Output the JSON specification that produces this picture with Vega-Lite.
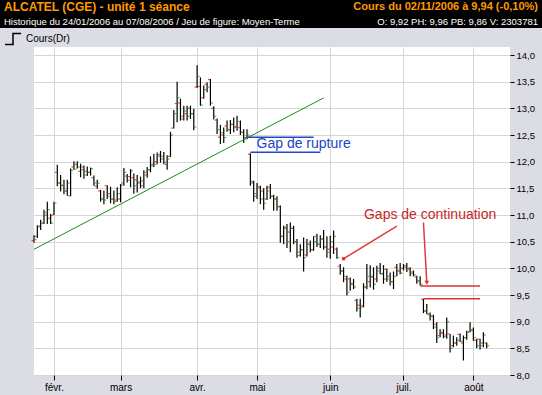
{
  "$schema": "https://vega.github.io/schema/vega-lite/v6.json",
  "background": "#dcdce4",
  "padding": {"left": 0, "top": 0, "right": 0, "bottom": 4},
  "config": {"view": {"stroke": null}, "font": "Liberation Sans", "scale": {"pointPadding": 0}},
  "spacing": 2,
  "resolve": {"scale": {"x": "independent", "y": "independent", "color": "independent"}},
  "vconcat": [
    {
      "width": 542,
      "height": 28,
      "view": {"fill": "#000000", "stroke": null},
      "data": {"values": [
        {"line": 1, "side": "gauche", "text": "ALCATEL (CGE) - unité 1 séance"},
        {"line": 1, "side": "droite", "text": "Cours du 02/11/2006 à 9,94 (-0,10%)"},
        {"line": 2, "side": "gauche", "text": "Historique du 24/01/2006 au 07/08/2006 / Jeu de figure: Moyen-Terme"},
        {"line": 2, "side": "droite", "text": "O: 9,92  PH: 9,96  PB: 9,86  V: 2303781"}
      ]},
      "encoding": {
        "x": {"field": "side", "type": "nominal", "scale": {"type": "point", "domain": ["gauche", "droite"], "padding": 0}, "axis": null},
        "y": {"field": "line", "type": "ordinal", "scale": {"type": "point", "domain": [1, 2], "padding": 0.5}, "axis": null},
        "text": {"field": "text"}
      },
      "layer": [
        {"transform": [{"filter": "datum.line == 1 && datum.side == 'gauche'"}],
         "mark": {"type": "text", "align": "left", "baseline": "middle", "dx": 4, "fontSize": 12, "fontWeight": "bold", "color": "#ff9900"}},
        {"transform": [{"filter": "datum.line == 1 && datum.side == 'droite'"}],
         "mark": {"type": "text", "align": "right", "baseline": "middle", "dx": -4, "fontSize": 11, "fontWeight": "bold", "color": "#ff9900"}},
        {"transform": [{"filter": "datum.line == 2 && datum.side == 'gauche'"}],
         "mark": {"type": "text", "align": "left", "baseline": "middle", "dx": 4, "dy": 1, "fontSize": 9.5, "color": "#ffffff"}},
        {"transform": [{"filter": "datum.line == 2 && datum.side == 'droite'"}],
         "mark": {"type": "text", "align": "right", "baseline": "middle", "dx": -4, "dy": 1, "fontSize": 9.5, "color": "#ffffff"}}
      ]
    },
    {
      "spacing": 3,
      "resolve": {"scale": {"x": "independent", "y": "independent", "color": "independent"}},
      "hconcat": [
        {"width": 1, "height": 1, "data": {"values": []}, "mark": "point"},
        {
          "width": 476,
          "height": 328,
          "view": {"fill": "#ffffff", "stroke": null},
          "resolve": {"axis": {"y": "independent"}},
          "data": {"values": [
            {"d":"2006-01-24","o":10.52,"h":10.62,"l":10.48,"c":10.54},
            {"d":"2006-01-25","o":10.6,"h":10.81,"l":10.57,"c":10.78},
            {"d":"2006-01-26","o":10.79,"h":10.91,"l":10.72,"c":10.85},
            {"d":"2006-01-27","o":10.85,"h":11.1,"l":10.83,"c":11.05},
            {"d":"2006-01-30","o":11.0,"h":11.25,"l":10.83,"c":11.1},
            {"d":"2006-01-31","o":10.94,"h":11.02,"l":10.83,"c":10.85},
            {"d":"2006-02-01","o":11.0,"h":11.25,"l":11.0,"c":11.22},
            {"d":"2006-02-02","o":11.8,"h":11.94,"l":11.54,"c":11.6},
            {"d":"2006-02-03","o":11.6,"h":11.75,"l":11.44,"c":11.56},
            {"d":"2006-02-06","o":11.55,"h":11.66,"l":11.39,"c":11.45},
            {"d":"2006-02-07","o":11.45,"h":11.66,"l":11.36,"c":11.6},
            {"d":"2006-02-08","o":11.36,"h":11.87,"l":11.35,"c":11.84},
            {"d":"2006-02-09","o":11.9,"h":12.01,"l":11.85,"c":11.86},
            {"d":"2006-02-10","o":11.95,"h":12.01,"l":11.87,"c":11.9},
            {"d":"2006-02-13","o":11.82,"h":11.96,"l":11.71,"c":11.9},
            {"d":"2006-02-14","o":11.85,"h":11.93,"l":11.68,"c":11.75},
            {"d":"2006-02-15","o":11.82,"h":11.91,"l":11.73,"c":11.8},
            {"d":"2006-02-16","o":11.8,"h":11.89,"l":11.74,"c":11.87},
            {"d":"2006-02-17","o":11.7,"h":11.74,"l":11.55,"c":11.6},
            {"d":"2006-02-20","o":11.54,"h":11.66,"l":11.49,"c":11.6},
            {"d":"2006-02-21","o":11.45,"h":11.47,"l":11.25,"c":11.3},
            {"d":"2006-02-22","o":11.3,"h":11.46,"l":11.2,"c":11.28},
            {"d":"2006-02-23","o":11.55,"h":11.56,"l":11.3,"c":11.35},
            {"d":"2006-02-24","o":11.4,"h":11.53,"l":11.22,"c":11.3},
            {"d":"2006-02-27","o":11.3,"h":11.46,"l":11.2,"c":11.25},
            {"d":"2006-02-28","o":11.28,"h":11.52,"l":11.25,"c":11.4},
            {"d":"2006-03-01","o":11.3,"h":11.58,"l":11.24,"c":11.56},
            {"d":"2006-03-02","o":11.6,"h":11.88,"l":11.55,"c":11.8},
            {"d":"2006-03-03","o":11.73,"h":11.77,"l":11.61,"c":11.65},
            {"d":"2006-03-06","o":11.72,"h":11.86,"l":11.52,"c":11.83},
            {"d":"2006-03-07","o":11.7,"h":11.78,"l":11.4,"c":11.55},
            {"d":"2006-03-08","o":11.66,"h":11.75,"l":11.42,"c":11.62},
            {"d":"2006-03-09","o":11.6,"h":11.72,"l":11.5,"c":11.64},
            {"d":"2006-03-10","o":11.55,"h":11.84,"l":11.5,"c":11.8},
            {"d":"2006-03-13","o":11.75,"h":11.9,"l":11.7,"c":11.85},
            {"d":"2006-03-14","o":11.85,"h":12.1,"l":11.8,"c":11.92},
            {"d":"2006-03-15","o":11.95,"h":12.15,"l":11.9,"c":11.95},
            {"d":"2006-03-16","o":12.0,"h":12.17,"l":11.95,"c":12.1},
            {"d":"2006-03-17","o":12.13,"h":12.2,"l":11.98,"c":12.05},
            {"d":"2006-03-20","o":12.1,"h":12.18,"l":11.95,"c":11.99},
            {"d":"2006-03-21","o":11.95,"h":12.12,"l":11.85,"c":12.05},
            {"d":"2006-03-22","o":12.1,"h":12.56,"l":12.09,"c":12.5},
            {"d":"2006-03-23","o":12.63,"h":12.97,"l":12.62,"c":12.9},
            {"d":"2006-03-24","o":13.09,"h":13.5,"l":12.74,"c":13.2},
            {"d":"2006-03-27","o":13.1,"h":13.18,"l":12.77,"c":12.8},
            {"d":"2006-03-28","o":12.85,"h":13.05,"l":12.77,"c":12.95},
            {"d":"2006-03-29","o":12.9,"h":13.05,"l":12.77,"c":12.85},
            {"d":"2006-03-30","o":13.0,"h":13.05,"l":12.8,"c":12.9},
            {"d":"2006-03-31","o":12.9,"h":12.99,"l":12.59,"c":12.65},
            {"d":"2006-04-03","o":13.4,"h":13.81,"l":13.38,"c":13.6},
            {"d":"2006-04-04","o":13.41,"h":13.58,"l":13.05,"c":13.06},
            {"d":"2006-04-05","o":13.2,"h":13.43,"l":13.18,"c":13.35},
            {"d":"2006-04-06","o":13.45,"h":13.49,"l":13.3,"c":13.4},
            {"d":"2006-04-07","o":13.54,"h":13.55,"l":13.05,"c":13.1},
            {"d":"2006-04-10","o":13.0,"h":13.04,"l":12.79,"c":12.85},
            {"d":"2006-04-11","o":12.78,"h":12.81,"l":12.52,"c":12.6},
            {"d":"2006-04-12","o":12.46,"h":12.69,"l":12.33,"c":12.54},
            {"d":"2006-04-13","o":12.5,"h":12.64,"l":12.35,"c":12.45},
            {"d":"2006-04-18","o":12.67,"h":12.77,"l":12.56,"c":12.6},
            {"d":"2006-04-19","o":12.6,"h":12.78,"l":12.52,"c":12.7},
            {"d":"2006-04-20","o":12.7,"h":12.83,"l":12.55,"c":12.65},
            {"d":"2006-04-21","o":12.65,"h":12.86,"l":12.58,"c":12.75},
            {"d":"2006-04-24","o":12.64,"h":12.77,"l":12.5,"c":12.55},
            {"d":"2006-04-25","o":12.55,"h":12.61,"l":12.35,"c":12.45},
            {"d":"2006-04-26","o":12.45,"h":12.61,"l":12.42,"c":12.5},
            {"d":"2006-04-27","o":12.14,"h":12.16,"l":11.55,"c":11.63},
            {"d":"2006-04-28","o":11.6,"h":11.64,"l":11.25,"c":11.4},
            {"d":"2006-05-02","o":11.35,"h":11.6,"l":11.3,"c":11.5},
            {"d":"2006-05-03","o":11.53,"h":11.55,"l":11.2,"c":11.3},
            {"d":"2006-05-04","o":11.45,"h":11.5,"l":11.1,"c":11.22},
            {"d":"2006-05-05","o":11.3,"h":11.55,"l":11.28,"c":11.45},
            {"d":"2006-05-08","o":11.52,"h":11.58,"l":11.3,"c":11.35},
            {"d":"2006-05-09","o":11.35,"h":11.38,"l":11.08,"c":11.3},
            {"d":"2006-05-10","o":11.3,"h":11.35,"l":11.08,"c":11.15},
            {"d":"2006-05-11","o":11.16,"h":11.18,"l":10.48,"c":10.6},
            {"d":"2006-05-12","o":10.6,"h":10.8,"l":10.45,"c":10.77},
            {"d":"2006-05-15","o":10.75,"h":10.83,"l":10.38,"c":10.5},
            {"d":"2006-05-16","o":10.68,"h":10.86,"l":10.3,"c":10.75},
            {"d":"2006-05-17","o":10.75,"h":10.8,"l":10.45,"c":10.5},
            {"d":"2006-05-18","o":10.5,"h":10.55,"l":10.2,"c":10.3},
            {"d":"2006-05-19","o":10.24,"h":10.45,"l":10.22,"c":10.35},
            {"d":"2006-05-22","o":10.35,"h":10.58,"l":9.94,"c":10.2},
            {"d":"2006-05-23","o":10.25,"h":10.55,"l":10.22,"c":10.45},
            {"d":"2006-05-24","o":10.45,"h":10.52,"l":10.3,"c":10.35},
            {"d":"2006-05-25","o":10.35,"h":10.6,"l":10.33,"c":10.5},
            {"d":"2006-05-26","o":10.6,"h":10.65,"l":10.4,"c":10.45},
            {"d":"2006-05-29","o":10.45,"h":10.62,"l":10.38,"c":10.55},
            {"d":"2006-05-30","o":10.55,"h":10.72,"l":10.35,"c":10.4},
            {"d":"2006-05-31","o":10.4,"h":10.6,"l":10.2,"c":10.3},
            {"d":"2006-06-01","o":10.36,"h":10.61,"l":10.18,"c":10.5},
            {"d":"2006-06-02","o":10.4,"h":10.71,"l":10.27,"c":10.6},
            {"d":"2006-06-05","o":10.36,"h":10.39,"l":10.18,"c":10.2},
            {"d":"2006-06-06","o":10.04,"h":10.08,"l":9.88,"c":9.95},
            {"d":"2006-06-07","o":9.95,"h":10.02,"l":9.74,"c":9.85},
            {"d":"2006-06-08","o":9.8,"h":9.86,"l":9.49,"c":9.55},
            {"d":"2006-06-09","o":9.8,"h":9.83,"l":9.58,"c":9.72},
            {"d":"2006-06-12","o":9.7,"h":9.8,"l":9.61,"c":9.65},
            {"d":"2006-06-13","o":9.4,"h":9.43,"l":9.19,"c":9.25},
            {"d":"2006-06-14","o":9.31,"h":9.43,"l":9.08,"c":9.27},
            {"d":"2006-06-15","o":9.3,"h":9.72,"l":9.27,"c":9.65},
            {"d":"2006-06-16","o":9.65,"h":10.08,"l":9.61,"c":9.85},
            {"d":"2006-06-19","o":9.75,"h":10.06,"l":9.64,"c":9.83},
            {"d":"2006-06-20","o":9.85,"h":10.02,"l":9.6,"c":9.7},
            {"d":"2006-06-21","o":9.8,"h":10.05,"l":9.74,"c":9.95},
            {"d":"2006-06-22","o":10.0,"h":10.1,"l":9.89,"c":9.9},
            {"d":"2006-06-23","o":9.9,"h":10.06,"l":9.71,"c":9.8},
            {"d":"2006-06-26","o":9.98,"h":9.99,"l":9.75,"c":9.8},
            {"d":"2006-06-27","o":9.85,"h":9.92,"l":9.68,"c":9.75},
            {"d":"2006-06-28","o":9.75,"h":9.94,"l":9.61,"c":9.85},
            {"d":"2006-06-29","o":10.02,"h":10.08,"l":9.85,"c":9.95},
            {"d":"2006-06-30","o":9.95,"h":10.1,"l":9.89,"c":9.91},
            {"d":"2006-07-03","o":10.0,"h":10.08,"l":9.96,"c":10.02},
            {"d":"2006-07-04","o":10.05,"h":10.1,"l":9.93,"c":9.98},
            {"d":"2006-07-05","o":10.0,"h":10.02,"l":9.85,"c":9.9},
            {"d":"2006-07-06","o":9.93,"h":9.96,"l":9.85,"c":9.88},
            {"d":"2006-07-07","o":9.84,"h":9.86,"l":9.71,"c":9.75},
            {"d":"2006-07-10","o":9.77,"h":9.85,"l":9.68,"c":9.7},
            {"d":"2006-07-11","o":9.42,"h":9.43,"l":9.16,"c":9.2},
            {"d":"2006-07-12","o":9.2,"h":9.33,"l":9.14,"c":9.15},
            {"d":"2006-07-13","o":9.13,"h":9.17,"l":9.02,"c":9.11},
            {"d":"2006-07-14","o":9.1,"h":9.13,"l":8.86,"c":8.9},
            {"d":"2006-07-17","o":8.95,"h":8.99,"l":8.6,"c":8.7},
            {"d":"2006-07-18","o":8.74,"h":8.86,"l":8.71,"c":8.8},
            {"d":"2006-07-19","o":8.78,"h":8.86,"l":8.69,"c":8.72},
            {"d":"2006-07-20","o":8.75,"h":9.08,"l":8.68,"c":9.0},
            {"d":"2006-07-21","o":8.77,"h":8.77,"l":8.42,"c":8.5},
            {"d":"2006-07-24","o":8.55,"h":8.74,"l":8.52,"c":8.6},
            {"d":"2006-07-25","o":8.6,"h":8.71,"l":8.55,"c":8.65},
            {"d":"2006-07-26","o":8.76,"h":8.78,"l":8.62,"c":8.63},
            {"d":"2006-07-27","o":8.6,"h":8.74,"l":8.27,"c":8.7},
            {"d":"2006-07-28","o":8.7,"h":8.83,"l":8.66,"c":8.8},
            {"d":"2006-07-31","o":8.81,"h":8.99,"l":8.8,"c":8.83},
            {"d":"2006-08-01","o":8.85,"h":8.89,"l":8.64,"c":8.7},
            {"d":"2006-08-02","o":8.65,"h":8.68,"l":8.5,"c":8.55},
            {"d":"2006-08-03","o":8.67,"h":8.68,"l":8.48,"c":8.55},
            {"d":"2006-08-04","o":8.6,"h":8.8,"l":8.52,"c":8.75},
            {"d":"2006-08-07","o":8.6,"h":8.61,"l":8.5,"c":8.55}
          ]},
          "encoding": {
            "x": {
              "field": "d", "type": "ordinal", "title": null,
              "scale": {
                "type": "point", "padding": 0,
                "domain": [
                  "2006-01-24","2006-01-25","2006-01-26","2006-01-27","2006-01-30","2006-01-31",
                  "2006-02-01","2006-02-02","2006-02-03","2006-02-06","2006-02-07","2006-02-08","2006-02-09","2006-02-10","2006-02-13","2006-02-14","2006-02-15","2006-02-16","2006-02-17","2006-02-20","2006-02-21","2006-02-22","2006-02-23","2006-02-24","2006-02-27","2006-02-28",
                  "2006-03-01","2006-03-02","2006-03-03","2006-03-06","2006-03-07","2006-03-08","2006-03-09","2006-03-10","2006-03-13","2006-03-14","2006-03-15","2006-03-16","2006-03-17","2006-03-20","2006-03-21","2006-03-22","2006-03-23","2006-03-24","2006-03-27","2006-03-28","2006-03-29","2006-03-30","2006-03-31",
                  "2006-04-03","2006-04-04","2006-04-05","2006-04-06","2006-04-07","2006-04-10","2006-04-11","2006-04-12","2006-04-13","2006-04-18","2006-04-19","2006-04-20","2006-04-21","2006-04-24","2006-04-25","2006-04-26","2006-04-27","2006-04-28",
                  "2006-05-02","2006-05-03","2006-05-04","2006-05-05","2006-05-08","2006-05-09","2006-05-10","2006-05-11","2006-05-12","2006-05-15","2006-05-16","2006-05-17","2006-05-18","2006-05-19","2006-05-22","2006-05-23","2006-05-24","2006-05-25","2006-05-26","2006-05-29","2006-05-30","2006-05-31",
                  "2006-06-01","2006-06-02","2006-06-05","2006-06-06","2006-06-07","2006-06-08","2006-06-09","2006-06-12","2006-06-13","2006-06-14","2006-06-15","2006-06-16","2006-06-19","2006-06-20","2006-06-21","2006-06-22","2006-06-23","2006-06-26","2006-06-27","2006-06-28","2006-06-29","2006-06-30",
                  "2006-07-03","2006-07-04","2006-07-05","2006-07-06","2006-07-07","2006-07-10","2006-07-11","2006-07-12","2006-07-13","2006-07-14","2006-07-17","2006-07-18","2006-07-19","2006-07-20","2006-07-21","2006-07-24","2006-07-25","2006-07-26","2006-07-27","2006-07-28","2006-07-31",
                  "2006-08-01","2006-08-02","2006-08-03","2006-08-04","2006-08-07","2006-08-08","2006-08-09","2006-08-10","2006-08-11","2006-08-14","2006-08-15","2006-08-16"
                ]
              },
              "axis": {
                "values": ["2006-02-01", "2006-03-01", "2006-04-03", "2006-05-02", "2006-06-01", "2006-07-03", "2006-08-01"],
                "labelExpr": "['janv.','févr.','mars','avr.','mai','juin','juil.','août','sept.'][toNumber(substring(datum.value,5,7))-1]",
                "labelAngle": 0, "labelFontSize": 10, "labelColor": "#000000", "labelPadding": 2, "labelOverlap": false,
                "domain": false, "tickSize": 5, "tickColor": "#000000",
                "grid": true, "gridColor": "#d6d6d6", "gridWidth": 1, "title": null
              }
            }
          },
          "layer": [
            {
              "mark": {"type": "rule", "strokeWidth": 1.2},
              "encoding": {
                "y": {
                  "field": "l", "type": "quantitative", "title": null,
                  "scale": {"domain": [8, 14.15], "nice": false, "zero": false},
                  "axis": {
                    "orient": "right",
                    "values": [8, 8.5, 9, 9.5, 10, 10.5, 11, 11.5, 12, 12.5, 13, 13.5, 14],
                    "labelExpr": "replace(format(datum.value, '.1f'), '.', ',')",
                    "labelFontSize": 9.5, "labelColor": "#000000", "labelPadding": 2, "labelFlush": false, "labelOverlap": false,
                    "domain": false, "tickSize": 4, "tickColor": "#000000",
                    "grid": true, "gridColor": "#d6d6d6", "gridWidth": 1, "title": null
                  }
                },
                "y2": {"field": "h"},
                "color": {
                  "datum": "Cours(Dr)", "type": "nominal",
                  "scale": {"range": ["#000000"]},
                  "legend": {
                    "orient": "none", "legendX": -30, "legendY": -17, "title": null,
                    "symbolType": "M-1,0.7H0V-0.7H1", "symbolSize": 256, "symbolStrokeWidth": 1.5,
                    "symbolFillColor": "transparent", "symbolStrokeColor": "#000000",
                    "labelFontSize": 10, "labelColor": "#000000", "labelOffset": 4, "padding": 0
                  }
                }
              }
            },
            {
              "mark": {"type": "tick", "color": "#e00000", "size": 2, "thickness": 1.2, "xOffset": -1.5},
              "encoding": {"y": {"field": "o", "type": "quantitative", "axis": null}}
            },
            {
              "mark": {"type": "tick", "color": "#00a000", "size": 2, "thickness": 1.2, "xOffset": 1.5},
              "encoding": {"y": {"field": "c", "type": "quantitative", "axis": null}}
            },
            {
              "data": {"values": [{"d": "2006-01-24", "v": 10.357}, {"d": "2006-05-30", "v": 13.195}]},
              "mark": {"type": "line", "color": "#1a8c1a", "strokeWidth": 1},
              "encoding": {"y": {"field": "v", "type": "quantitative", "axis": null}}
            },
            {
              "data": {"values": [
                {"d": "2006-04-26", "d2": "2006-05-25", "p": 12.457},
                {"d": "2006-04-27", "d2": "2006-05-29", "p": 12.175}
              ]},
              "mark": {"type": "rule", "color": "#2446c8", "strokeWidth": 1.5},
              "encoding": {
                "x2": {"field": "d2"},
                "y": {"field": "p", "type": "quantitative", "axis": null}
              }
            },
            {
              "data": {"values": [
                {"d": "2006-07-10", "d2": "2006-08-03", "p": 9.669},
                {"d": "2006-07-11", "d2": "2006-08-03", "p": 9.43}
              ]},
              "mark": {"type": "rule", "color": "#dd3030", "strokeWidth": 1.5},
              "encoding": {
                "x2": {"field": "d2"},
                "y": {"field": "p", "type": "quantitative", "axis": null}
              }
            },
            {
              "data": {"values": [
                {"d": "2006-06-29", "d2": "2006-06-07", "p1": 10.79, "p2": 10.18},
                {"d": "2006-07-11", "d2": "2006-07-12", "p1": 10.86, "p2": 9.74}
              ]},
              "mark": {"type": "rule", "color": "#e03c3c", "strokeWidth": 1.5},
              "encoding": {
                "x2": {"field": "d2"},
                "y": {"field": "p1", "type": "quantitative", "axis": null},
                "y2": {"field": "p2"}
              }
            },
            {
              "data": {"values": [{"d": "2006-06-07", "p": 10.18}]},
              "mark": {"type": "point", "shape": "square", "size": 10, "filled": true, "color": "#e03030", "opacity": 1},
              "encoding": {"y": {"field": "p", "type": "quantitative", "axis": null}}
            },
            {
              "data": {"values": [{"d": "2006-07-12", "p": 9.73}]},
              "mark": {"type": "point", "shape": "triangle-down", "size": 22, "filled": true, "color": "#e03030", "opacity": 1},
              "encoding": {"y": {"field": "p", "type": "quantitative", "axis": null}}
            },
            {
              "data": {"values": [{"d": "2006-05-22", "p": 12.25, "t": "Gap de rupture"}]},
              "mark": {"type": "text", "align": "center", "baseline": "alphabetic", "fontSize": 14, "color": "#2244c4"},
              "encoding": {"y": {"field": "p", "type": "quantitative", "axis": null}, "text": {"field": "t"}}
            },
            {
              "data": {"values": [{"d": "2006-07-13", "p": 10.925, "t": "Gaps de continuation"}]},
              "mark": {"type": "text", "align": "center", "baseline": "alphabetic", "fontSize": 14, "color": "#c42828"},
              "encoding": {"y": {"field": "p", "type": "quantitative", "axis": null}, "text": {"field": "t"}}
            }
          ]
        }
      ]
    }
  ]
}
